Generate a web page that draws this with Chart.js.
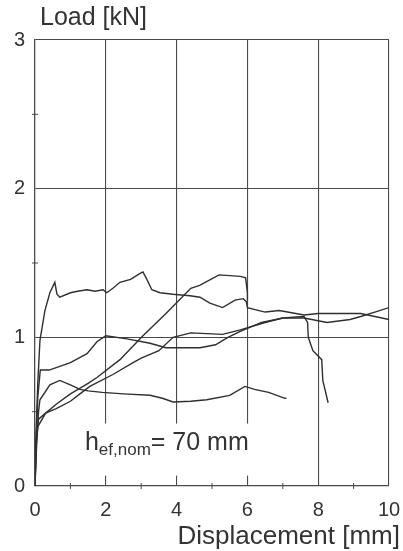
<!DOCTYPE html>
<html>
<head>
<meta charset="utf-8">
<script src="https://cdn.jsdelivr.net/npm/chart.js@4/dist/chart.umd.min.js"></script>
<style>
  html, body { margin: 0; padding: 0; background: #fff; }
  #wrap { width: 403px; height: 551px; }
</style>
</head>
<body>
<div id="wrap"><canvas id="loadChart"></canvas></div>
<script>
// displacement [mm] / load [kN]
const specA_x = [0, 0.03, 0.08, 0.14, 0.28, 0.42, 0.56, 0.62, 0.7, 1.0, 1.2, 1.47, 1.7, 1.92, 2.03, 2.2, 2.4, 2.7, 2.97, 3.05, 3.16, 3.3, 3.53, 3.9, 4.38, 4.66, 4.94, 5.3, 5.65, 5.88, 5.97, 6.0, 6.5, 6.9, 7.6, 8.0, 8.5, 9.2, 9.6, 10.0];
const specA_y = [0, 0.35, 0.7, 0.98, 1.18, 1.3, 1.37, 1.29, 1.27, 1.3, 1.31, 1.32, 1.31, 1.32, 1.3, 1.33, 1.37, 1.39, 1.43, 1.44, 1.39, 1.32, 1.3, 1.29, 1.28, 1.27, 1.23, 1.2, 1.25, 1.26, 1.24, 1.2, 1.17, 1.18, 1.15, 1.16, 1.16, 1.16, 1.14, 1.12];

const specB_x = [0, 0.03, 0.1, 0.3, 0.6, 1.0, 1.5, 1.75, 2.4, 3.05, 3.7, 4.4, 4.65, 5.2, 5.8, 5.95, 6.0, 6.0];
const specB_y = [0, 0.3, 0.45, 0.49, 0.55, 0.62, 0.69, 0.73, 0.85, 1.01, 1.16, 1.33, 1.35, 1.42, 1.41, 1.4, 1.3, 1.25];

const specC_x = [0, 0.03, 0.08, 0.15, 0.4, 1.0, 1.47, 1.75, 2.0, 2.6, 3.25, 3.7, 4.2, 4.66, 5.1, 5.45, 5.8, 6.4, 7.0, 7.6, 8.25, 8.9, 9.2, 9.6, 10.0];
const specC_y = [0, 0.3, 0.6, 0.78, 0.78, 0.83, 0.89, 0.97, 1.01, 0.99, 0.96, 0.93, 0.93, 0.93, 0.95, 1.0, 1.04, 1.1, 1.13, 1.13, 1.1, 1.12, 1.14, 1.17, 1.2];

const specD_x = [0, 0.03, 0.08, 0.3, 0.6, 1.0, 1.27, 1.55, 2.2, 2.77, 3.0, 3.5, 3.9, 4.4, 5.3, 5.8, 6.5, 7.0, 7.6, 7.7, 7.72, 7.85, 8.1, 8.13, 8.28];
const specD_y = [0, 0.25, 0.4, 0.49, 0.52, 0.57, 0.62, 0.67, 0.75, 0.83, 0.86, 0.91, 1.0, 1.03, 1.02, 1.05, 1.1, 1.13, 1.14, 1.1, 1.0, 0.91, 0.85, 0.71, 0.56];

const specE_x = [0, 0.05, 0.1, 0.14, 0.42, 0.7, 1.0, 1.27, 1.5, 1.9, 2.5, 3.25, 3.6, 3.9, 4.4, 4.85, 5.5, 5.93, 6.2, 6.6, 7.06, 7.1];
const specE_y = [0, 0.3, 0.5, 0.58, 0.68, 0.71, 0.68, 0.65, 0.64, 0.63, 0.62, 0.61, 0.59, 0.565, 0.57, 0.58, 0.61, 0.67, 0.65, 0.63, 0.59, 0.59];

const xTicks = [0, 2, 4, 6, 8, 10];
const yTicks = [0, 1, 2, 3];
const xMinor = [1, 3, 5, 7, 9];
const yMinor = [0.5, 1.5, 2.5];

const toPoints = (xs, ys) => xs.map((v, i) => ({ x: v, y: ys[i] }));

const inkColor = "#2f2f2f";
const gridColor = "#4a4a4a";

const curve = (xs, ys) => ({
  data: toPoints(xs, ys),
  showLine: true,
  borderColor: inkColor,
  borderWidth: 1.4,
  pointRadius: 0,
  tension: 0,
});

// minor ticks, label box and axis titles
const decorations = {
  id: "decorations",
  beforeDatasetsDraw(chart) {
    const { ctx, scales: { x, y } } = chart;
    ctx.save();
    ctx.strokeStyle = gridColor;
    ctx.lineWidth = 1;
    ctx.beginPath();
    xMinor.forEach((v) => {
      const px = x.getPixelForValue(v);
      ctx.moveTo(px, y.bottom - 3);
      ctx.lineTo(px, y.bottom + 3);
    });
    yMinor.forEach((v) => {
      const py = y.getPixelForValue(v);
      ctx.moveTo(x.left - 3, py);
      ctx.lineTo(x.left + 3, py);
    });
    ctx.stroke();

    // white box behind the annotation
    const bx0 = x.getPixelForValue(1.27);
    const bx1 = x.getPixelForValue(6.25);
    const by0 = y.getPixelForValue(0.42);
    const by1 = y.getPixelForValue(0.07);
    ctx.fillStyle = "#fff";
    ctx.fillRect(bx0, by0, bx1 - bx0, by1 - by0);

    // h_ef,nom = 70 mm
    let tx = x.getPixelForValue(1.41);
    const base = y.getPixelForValue(0.24);
    ctx.fillStyle = "#333";
    ctx.textBaseline = "alphabetic";
    ctx.textAlign = "left";
    ctx.font = "25px 'Liberation Sans', Arial, sans-serif";
    ctx.fillText("h", tx, base);
    tx += ctx.measureText("h").width;
    ctx.font = "17px 'Liberation Sans', Arial, sans-serif";
    ctx.fillText("ef,nom", tx, base + 5);
    tx += ctx.measureText("ef,nom").width;
    ctx.font = "25px 'Liberation Sans', Arial, sans-serif";
    ctx.fillText("= 70 mm", tx, base);
    ctx.restore();
  },
  afterDraw(chart) {
    const { ctx } = chart;
    ctx.save();
    ctx.fillStyle = "#333";
    ctx.textBaseline = "alphabetic";
    ctx.textAlign = "left";
    ctx.font = "25px 'Liberation Sans', Arial, sans-serif";
    ctx.fillText("Load [kN]", 40, 25);
    ctx.textAlign = "right";
    ctx.font = "26px 'Liberation Sans', Arial, sans-serif";
    ctx.fillText("Displacement [mm]", 400, 544);
    ctx.restore();
  },
};

new Chart(document.getElementById("loadChart"), {
  type: "scatter",
  data: {
    datasets: [
      curve(specA_x, specA_y),
      curve(specB_x, specB_y),
      curve(specC_x, specC_y),
      curve(specD_x, specD_y),
      curve(specE_x, specE_y),
    ],
  },
  options: {
    responsive: true,
    maintainAspectRatio: false,
    animation: false,
    layout: { padding: { top: 40, right: 14, left: 0, bottom: 0 } },
    plugins: {
      legend: { display: false },
      tooltip: { enabled: false },
    },
    scales: {
      x: {
        type: "linear",
        min: 0,
        max: 10,
        afterFit: (scale) => {
          scale.height = 65;
          scale.paddingLeft = 0;
          scale.paddingRight = 0;
        },
        afterBuildTicks: (scale) => { scale.ticks = xTicks.map((v) => ({ value: v })); },
        ticks: {
          color: "#333",
          padding: 12,
          font: { family: "'Liberation Sans', Arial, sans-serif", size: 20 },
        },
        grid: { color: gridColor, lineWidth: 1.1, drawTicks: false },
        border: { color: gridColor, width: 1.2 },
      },
      y: {
        type: "linear",
        min: 0,
        max: 3,
        afterFit: (scale) => {
          scale.width = 35;
          scale.paddingTop = 0;
          scale.paddingBottom = 0;
        },
        afterBuildTicks: (scale) => { scale.ticks = yTicks.map((v) => ({ value: v })); },
        ticks: {
          color: "#333",
          padding: 10,
          font: { family: "'Liberation Sans', Arial, sans-serif", size: 20 },
        },
        grid: { color: gridColor, lineWidth: 1.1, drawTicks: false },
        border: { color: gridColor, width: 1.2 },
      },
    },
  },
  plugins: [decorations],
});
</script>
</body>
</html>
